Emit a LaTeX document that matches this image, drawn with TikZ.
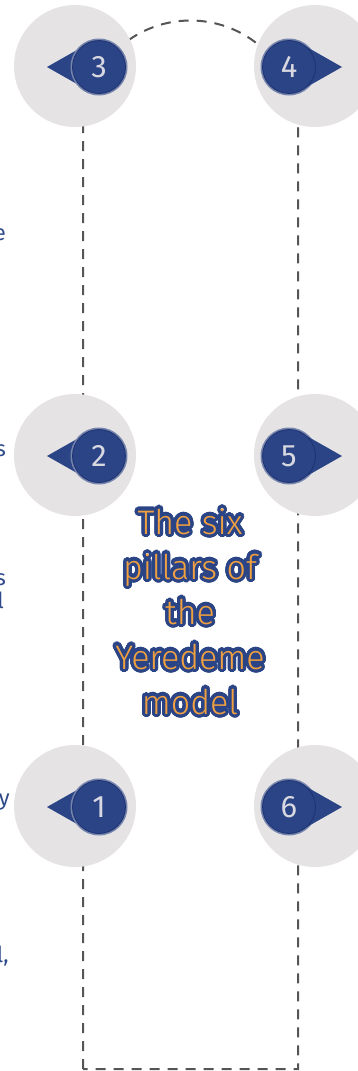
\documentclass[tikz,border=0pt]{standalone}
\usepackage{fontspec}
\setmainfont{Fira Sans}
\IfFontExistsTF{Fira Sans Light}{\newfontfamily\ttlfont{Fira Sans Light}}{\newfontfamily\ttlfont{Fira Sans}}
\usepackage{contour}
\contourlength{3.2pt}
\contournumber{36}
\definecolor{pblue}{HTML}{2A4486}
\definecolor{pblueedge}{HTML}{1E3270}
\definecolor{pgray}{HTML}{E5E3E4}
\definecolor{pdash}{HTML}{555555}
\definecolor{porange}{HTML}{F0A040}
\definecolor{ptext}{HTML}{2F4A8A}
\definecolor{pdigit}{HTML}{D8D8E0}
\newcommand{\ttlline}[1]{\contour{pblue}{#1}}
\begin{document}
\begin{tikzpicture}[x=1pt,y=-1pt,
  dashline/.style={draw=pdash,line width=2pt,dash pattern=on 10pt off 8pt},
  graydisk/.style={circle,fill=pgray,minimum size=122pt,inner sep=0pt},
  numdisk/.style={circle,fill=pblue,draw=pblueedge,line width=0.8pt,minimum size=53pt,inner sep=0pt,text=pdigit,font=\fontsize{31}{31}\selectfont},
  halo/.style={circle,fill=pblue!60!pgray,minimum size=57pt,inner sep=0pt},
  pin/.style={fill=pblue},
  frag/.style={anchor=base east,inner sep=0pt,text=ptext,font=\fontsize{22}{24}\selectfont},
  title/.style={align=center,text=porange,inner sep=0pt,font=\ttlfont\fontsize{34}{45}\selectfont}]
\useasboundingbox (0,0) rectangle (358,1071);

% dashed frame
\coordinate (fl) at (83,1069);
\coordinate (fr) at (298,1069);
\coordinate (ftl) at (83,128);
\draw[dashline] (fl) -- (ftl) arc (180:360:107.5) -- (fr) -- cycle;

% gray disks
\node[graydisk] (g3) at (75,66) {};
\node[graydisk] (g2) at (75,455) {};
\node[graydisk] (g1) at (75,806) {};
\node[graydisk] (g4) at (315,66) {};
\node[graydisk] (g5) at (315,455) {};
\node[graydisk] (g6) at (315,806) {};

% left pins
\foreach \y/\n in {67/3,456/2,807/1}{
  \fill[pin] (47,\y) -- (84,\y-21) -- (84,\y+21) -- cycle;
  \node[halo] (h\n) at (99,\y) {};
  \node[numdisk] (n\n) at (99,\y) {\n};
}
% right pins
\foreach \y/\n in {67/4,456/5,807/6}{
  \node[halo] (h\n) at (289,\y) {};
  \fill[pin] (342,\y) -- (305,\y-21) -- (305,\y+21) -- cycle;
  \node[numdisk] (n\n) at (289,\y) {\n};
}

% clipped text fragments at the left edge
\node[frag] (fe) at (6,240) {e};
\node[frag] (fs1) at (6,456) {s};
\node[frag] (fs2) at (6,585) {s};
\node[frag] (fl2) at (4,608) {l};
\node[frag] (fy) at (10,805) {y};
\node[frag] (fl3) at (9,962) {l,};

% title
\node[title] (title) at (190,613) {\ttlline{The six}\\\ttlline{pillars of}\\\ttlline{the}\\\ttlline{Yeredeme}\\\ttlline{model}};
\end{tikzpicture}
\end{document}
